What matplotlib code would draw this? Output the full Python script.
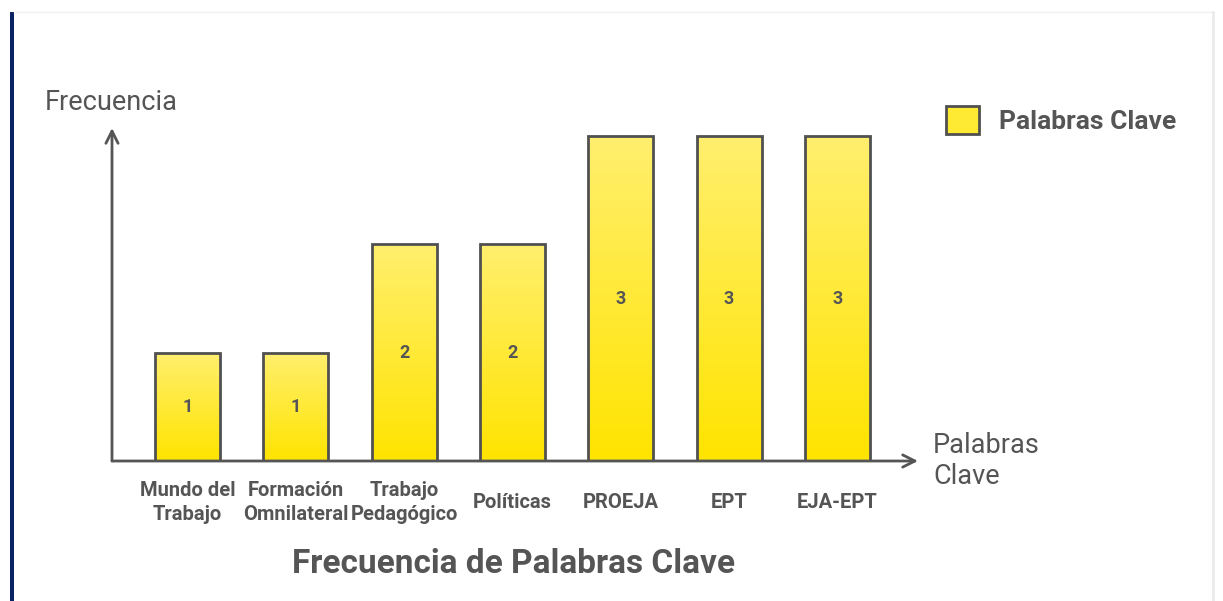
import numpy as np
import matplotlib
matplotlib.use('Agg')
import matplotlib.pyplot as plt
from matplotlib.patches import Patch, Rectangle
from matplotlib.lines import Line2D
from matplotlib.colors import LinearSegmentedColormap

# data
categories = ['Mundo del\nTrabajo', 'Formación\nOmnilateral', 'Trabajo\nPedagógico',
              'Políticas', 'PROEJA', 'EPT', 'EJA-EPT']
frecuencia = [1, 1, 2, 2, 3, 3, 3]
series_name = 'Palabras Clave'

plt.rcParams['font.family'] = ['Roboto', 'DejaVu Sans']
gray = '#555555'
edge = '#505050'

W, H = 1223, 601
fig = plt.figure(figsize=(W / 100, H / 100), dpi=100)

# frame decorations of the screenshot
fig.add_artist(Rectangle((10 / W, 0), 4 / W, 1 - 12 / H, transform=fig.transFigure,
                         color='#0b2265', lw=0))
fig.add_artist(Line2D([14 / W, 1213 / W], [1 - 12 / H, 1 - 12 / H], transform=fig.transFigure,
                      color='#f0f0f0', lw=1))
fig.add_artist(Line2D([1213 / W, 1213 / W], [0, 1 - 12 / H], transform=fig.transFigure,
                      color='#ebebeb', lw=2))

# main axes: origin at pixel (112, 461), x arrow to 918, y arrow to 128
x0, x1 = 112, 918
y0, y1 = 461, 128
ax = fig.add_axes([x0 / W, (H - y0) / H, (x1 - x0) / W, (y0 - y1) / H])
unit = 108.3
xpos = np.arange(len(categories))
ax.set_xlim(-(187.5 - x0) / unit, (x1 - 187.5) / unit)
ax.set_ylim(0, (y0 - y1) / unit)
for s in ax.spines.values():
    s.set_visible(False)
ax.set_yticks([])

cmap = LinearSegmentedColormap.from_list('yel', ['#ffe400', '#ffef6e'])
bars = ax.bar(xpos, frecuencia, width=65 / unit, facecolor='none', edgecolor=edge,
              linewidth=2, zorder=3)
grad = np.linspace(0, 1, 100).reshape(-1, 1)
for b, v in zip(bars, frecuencia):
    im = ax.imshow(grad, extent=(b.get_x(), b.get_x() + b.get_width(), 0, v),
                   origin='lower', cmap=cmap, aspect='auto', zorder=2)
    im.set_clip_path(b)
    ax.text(b.get_x() + b.get_width() / 2, v / 2, str(v), ha='center', va='center',
            fontsize=13, fontweight='bold', color=gray, zorder=4)

# axis arrows
arrow = dict(arrowstyle='->', lw=2, color=gray, mutation_scale=22, shrinkA=0, shrinkB=0)
ax.annotate('', xy=(0, 1), xytext=(0, 0), xycoords='axes fraction', arrowprops=arrow,
            annotation_clip=False)
ax.annotate('', xy=(1, 0), xytext=(0, 0), xycoords='axes fraction', arrowprops=arrow,
            annotation_clip=False)

ax.set_xticks(xpos, categories)
ax.tick_params(axis='x', length=0, pad=30)
for lbl in ax.get_xticklabels():
    lbl.set_va('center')
    lbl.set_fontsize(14.5)
    lbl.set_fontweight('bold')
    lbl.set_color(gray)
    lbl.set_linespacing(1.3)

fig.text(45 / W, 1 - 103 / H, 'Frecuencia', ha='left', va='center', fontsize=19.5, color=gray)
fig.text(933 / W, 1 - 461 / H, 'Palabras\nClave', ha='left', va='center', fontsize=19.5,
         color=gray, linespacing=1.2)
fig.text(513 / W, 1 - 564 / H, 'Frecuencia de Palabras Clave', ha='center', va='center',
         fontsize=24, fontweight='bold', color=gray)

handle = Patch(facecolor='#ffea33', edgecolor=edge, linewidth=2)
leg = fig.legend([handle], [series_name], loc='center left',
                 bbox_to_anchor=(922 / W, 1 - 120 / H), frameon=False,
                 handlelength=1.25, handleheight=1.25, handletextpad=0.75,
                 prop={'size': 19, 'weight': 'bold'})
for t in leg.get_texts():
    t.set_color(gray)

fig.savefig('out.png', dpi=100)
